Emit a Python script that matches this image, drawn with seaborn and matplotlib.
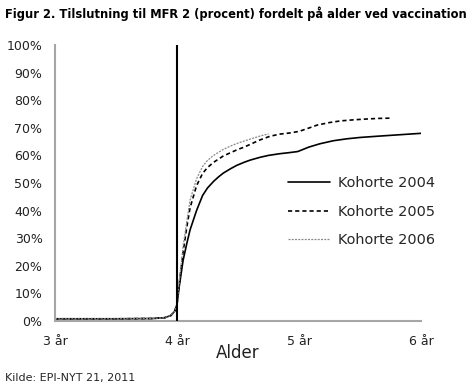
import numpy as np
import pandas as pd
import seaborn as sns
import matplotlib.pyplot as plt
from matplotlib.ticker import FixedLocator

# Values (age in years, coverage in %)
pre_age = [3.0, 3.5, 3.8, 3.9, 3.95, 3.98, 4.0]
pre_pct = [0.8, 0.8, 0.9, 1.2, 2.0, 3.5, 6.0]

age_2004 = [4.02, 4.05, 4.08, 4.107, 4.16, 4.21, 4.25, 4.30, 4.34, 4.38, 4.44, 4.49, 4.55,
            4.60, 4.68, 4.75, 4.84, 4.92, 4.99, 5.08, 5.17, 5.28, 5.39, 5.5, 5.66, 5.83, 6.0]
pct_2004 = [13, 22, 28, 33, 40, 45.5, 48.2, 50.6, 52.2, 53.6, 55.2, 56.4, 57.5,
            58.3, 59.3, 60.0, 60.6, 61.0, 61.4, 63.0, 64.2, 65.3, 66.0, 66.5, 67.0, 67.5, 68.0]

age_2005 = [4.02, 4.05, 4.08, 4.107, 4.16, 4.21, 4.25, 4.30, 4.38, 4.44, 4.49, 4.55, 4.60,
            4.68, 4.76, 4.84, 4.92, 5.0, 5.08, 5.15, 5.25, 5.34, 5.45, 5.56, 5.65, 5.75]
pct_2005 = [14, 25, 34, 41, 49, 53.5, 55.6, 57.5, 59.8, 61.0, 62.0, 63.0, 64.0,
            65.6, 66.9, 67.7, 68.1, 68.7, 69.9, 71.0, 71.9, 72.5, 72.9, 73.2, 73.4, 73.5]

age_2006 = [4.02, 4.05, 4.08, 4.107, 4.16, 4.21, 4.25, 4.30, 4.38, 4.44, 4.49, 4.55, 4.60,
            4.68, 4.75]
pct_2006 = [15, 27, 36, 43.8, 51.5, 56, 58.2, 60, 62.2, 63.4, 64.3, 65.2, 65.9,
            67.0, 67.8]

labels = ["Kohorte 2004", "Kohorte 2005", "Kohorte 2006"]
x_ticks = [3, 4, 5, 6]
x_ticklabels = ["3 år", "4 år", "5 år", "6 år"]
y_ticks = list(range(0, 101, 10))

sns.set_style("white")
plt.rcParams['font.family'] = ['DejaVu Sans']

fig = plt.figure(figsize=(4.77, 3.85), dpi=100)
ax = fig.add_axes([55 / 477, 1 - 321 / 385, (421 - 55) / 477, (321 - 45) / 385])

styles = [
    dict(color="black", linestyle="-", linewidth=1.2),
    dict(color="black", linestyle=(0, (2.5, 1.8)), linewidth=1.2),
    dict(color="#8a8a8a", linestyle=(0, (1.6, 1.0)), linewidth=0.9),
]
series = [(age_2004, pct_2004), (age_2005, pct_2005), (age_2006, pct_2006)]

for (a, p), lab, st in zip(series, labels, styles):
    df = pd.DataFrame({"age": pre_age + a, "pct": pre_pct + p})
    sns.lineplot(data=df, x="age", y="pct", ax=ax, sort=False, label=lab, **st)

ax.axvline(4, ymin=0, ymax=1, color="black", linewidth=1.5, zorder=5)

ax.set_xlim(3, 6)
ax.set_ylim(0, 100)
ax.xaxis.set_major_locator(FixedLocator(x_ticks))
ax.set_xticklabels(x_ticklabels)
ax.xaxis.set_minor_locator(FixedLocator([3.5, 4.5, 5.5]))
ax.set_yticks(y_ticks)
ax.set_yticklabels([f"{v}%" for v in y_ticks])

for s in ["top", "right"]:
    ax.spines[s].set_visible(False)
for s in ["left", "bottom"]:
    ax.spines[s].set_color("#a6a6a6")
    ax.spines[s].set_linewidth(1.5)

ax.tick_params(axis="both", which="both", direction="out", length=3, width=1,
               color="#a6a6a6", labelsize=9, labelcolor="#222222")
ax.tick_params(axis="x", which="major", pad=7)
ax.tick_params(axis="y", which="major", pad=6)

ax.set_xlabel("Alder", fontsize=12, color="#222222", labelpad=-3)
ax.set_ylabel("")

ax.legend(loc="upper left", bbox_to_anchor=(0.62, 0.545), frameon=False,
          fontsize=10.4, handlelength=2.9, handletextpad=0.6, labelspacing=1.0,
          borderaxespad=0)

fig.text(5 / 477, 1 - 14 / 385, "Figur 2. Tilslutning til MFR 2 (procent) fordelt på alder ved vaccination",
         fontsize=8.3, fontweight="bold", ha="left", va="center", color="black")
fig.text(5 / 477, 1 - 378 / 385, "Kilde: EPI-NYT 21, 2011", fontsize=8, ha="left", va="center")

fig.savefig("out.png", dpi=100)
